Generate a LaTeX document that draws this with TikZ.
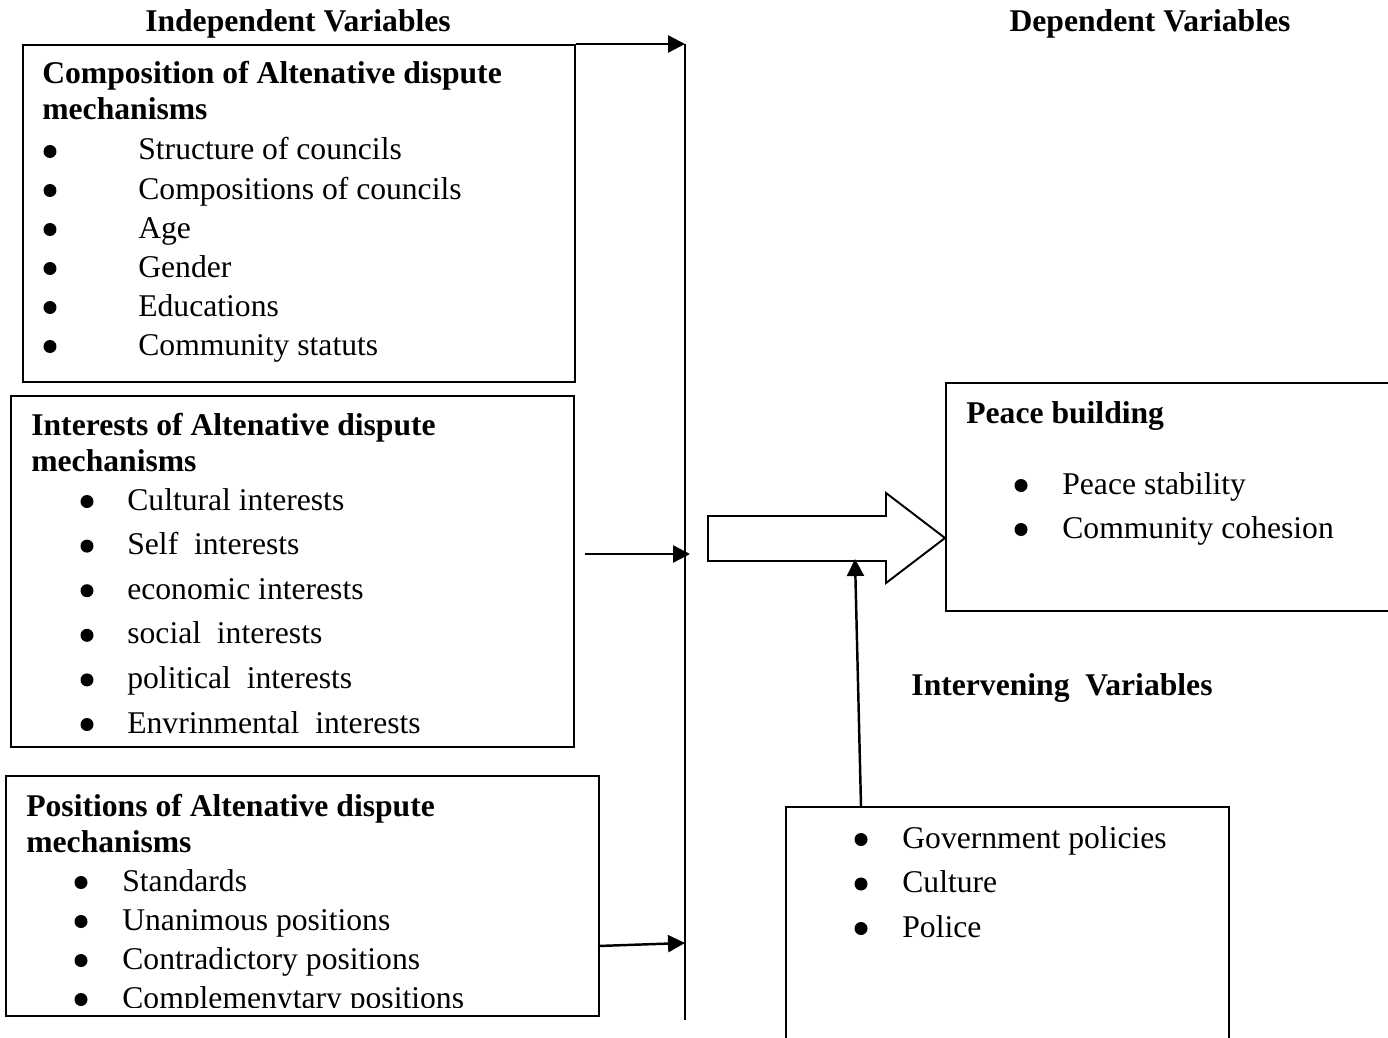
\documentclass[tikz,border=0pt]{standalone}
\usepackage{fontspec}
\setmainfont{Liberation Serif}
\usetikzlibrary{arrows.meta}

\tikzset{
  box/.style={draw, line width=1.1pt, anchor=north west, inner sep=0pt},
  txt/.style={anchor=base west, inner sep=0pt, font=\fontsize{18}{22}\selectfont},
  ttl/.style={txt, font=\fontsize{18}{22}\selectfont\bfseries},
  dot/.style={circle, fill, inner sep=0pt, minimum size=0.26cm},
  link/.style={line width=1.4pt, -{Triangle[length=0.34cm,width=0.34cm]}}
}

\begin{document}
\begin{tikzpicture}[x=0.02cm, y=-0.02cm]
    \clip (0,0) rectangle (1388,1037); % page size

    \node[ttl, anchor=base] (indep) at (298,32) {Independent Variables}; % left heading
    \node[ttl, anchor=base] (dep) at (1150,32) {Dependent Variables}; % right heading

    % composition box
    \node[box, minimum width=11.04cm, minimum height=6.74cm] (comp) at (22,44) {};
    \node[ttl] (comptitle) at (42,84) {Composition of Altenative dispute};
    \node[ttl] (comptitleb) at (42,120) {mechanisms};
    \foreach \item [count=\i] in {Structure of councils, Compositions of councils, Age, Gender, Educations, Community statuts} {
        \node[dot] (compdot\i) at (50,112.5+39*\i) {};
        \node[txt] (compitem\i) at (138,121+39*\i) {\item};
    }

    % interests box
    \node[box, minimum width=11.26cm, minimum height=7.02cm] (inter) at (10,395) {};
    \node[ttl] (intertitle) at (31,435) {Interests of Altenative dispute};
    \node[ttl] (intertitleb) at (31,471) {mechanisms};
    \foreach \item [count=\i] in {Cultural interests, Self\ \ interests, economic interests, social\ \ interests, political\ \ interests, Envrinmental\ \ interests} {
        \node[dot] (interdot\i) at (87,456.9+44.6*\i) {};
        \node[txt] (interitem\i) at (127,465.4+44.6*\i) {\item};
    }

    % positions box
    \node[box, minimum width=11.86cm, minimum height=4.8cm] (posi) at (5,775) {};
    \node[ttl] (posititle) at (26,816) {Positions of Altenative dispute};
    \node[ttl] (posititleb) at (26,852) {mechanisms};
    \begin{scope}
        \clip (5,775) rectangle (598,1007); % last line is cut
        \foreach \item [count=\i] in {Standards, Unanimous positions, Contradictory positions, Complemenytary positions} {
            \node[dot] (posidot\i) at (81,843.5+39*\i) {};
            \node[txt] (posiitem\i) at (122,852+39*\i) {\item};
        }
    \end{scope}

    % collecting line
    \coordinate (bustop) at (685,44);
    \coordinate (busbot) at (685,1020);
    \draw[line width=1.1pt] (bustop) -- (busbot);
    \draw[link] (comp.north east) -- (bustop); % from composition
    \coordinate (interfrom) at (585,554);
    \coordinate (interto) at (690,554);
    \draw[link] (interfrom) -- (interto); % from interests
    \coordinate (posifrom) at (598,946);
    \coordinate (posito) at (685,943);
    \draw[link] (posifrom) -- (posito); % from positions

    % hollow arrow
    \draw[line width=1.1pt, line join=miter] (708,516) -- (886,516) -- (886,493) -- (945,538)
        -- (886,583) -- (886,561) -- (708,561) -- cycle;
    \coordinate (flowbase) at (855,559);

    % peace box
    \node[box, minimum width=9.4cm, minimum height=4.56cm] (peace) at (945,382) {};
    \node[ttl] (peacetitle) at (966,423) {Peace building};
    \foreach \item [count=\i] in {Peace stability, Community cohesion} {
        \node[dot] (peacedot\i) at (1021,441.5+44*\i) {};
        \node[txt] (peaceitem\i) at (1062,450+44*\i) {\item};
    }

    % intervening box
    \node[ttl, anchor=base] (intlabel) at (1062,695) {Intervening\ \ Variables};
    \node[box, minimum width=8.86cm, minimum height=5.4cm] (interv) at (785,806) {};
    \foreach \item [count=\i] in {Government policies, Culture, Police} {
        \node[dot] (intervdot\i) at (861,795+44.5*\i) {};
        \node[txt] (intervitem\i) at (902,803.5+44.5*\i) {\item};
    }
    \coordinate (intervtop) at (861,806);
    \draw[link] (intervtop) -- (flowbase); % intervening
\end{tikzpicture}
\end{document}
